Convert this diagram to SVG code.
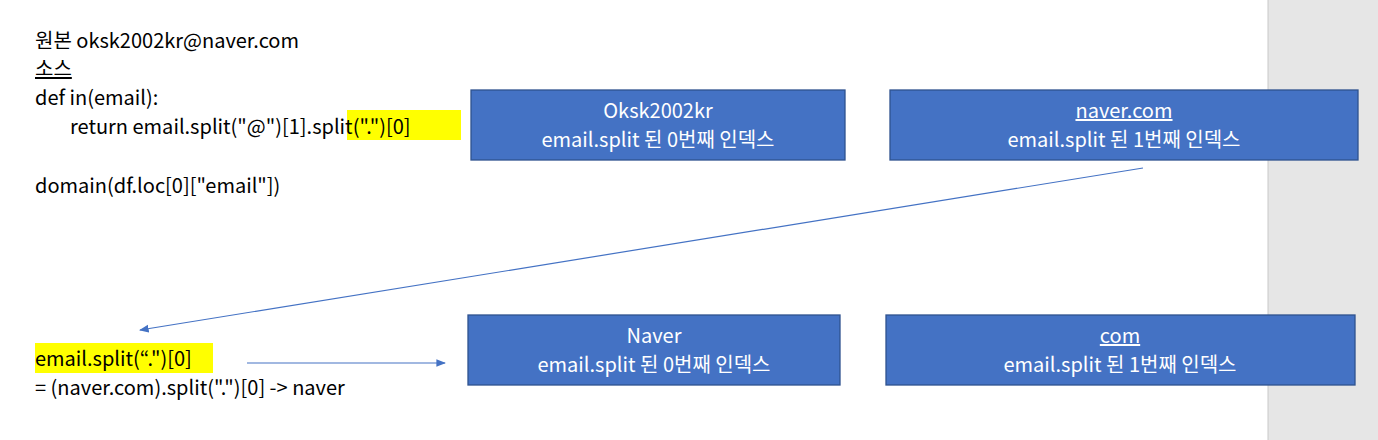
<svg xmlns="http://www.w3.org/2000/svg" width="1378" height="440" viewBox="0 0 1378 440">
<defs>
<style>
text{font-family:"Noto Sans CJK KR","Noto Sans",sans-serif;font-size:20px;fill:#000}
.box rect{fill:#4472c4;stroke:#2f528f;stroke-width:1.3}
.box text{fill:#fff;text-anchor:middle}
.hl{fill:#ffff00}
</style>
<marker id="ah" viewBox="0 0 10 10" refX="9" refY="5" markerWidth="8" markerHeight="8" orient="auto"><path d="M0,1L10,5L0,9z" fill="#4472c4"/></marker>
</defs>
<rect width="1378" height="440" fill="#fff"/>
<rect x="1268" y="0" width="110" height="440" fill="#e6e6e6"/>
<line x1="1268" y1="0" x2="1268" y2="440" stroke="#c8c8c8"/>
<g id="code">
<rect class="hl" x="347" y="110" width="114" height="30"/>
<text x="35" y="48">원본 oksk2002kr@naver.com</text>
<text x="35" y="76" text-decoration="underline">소스</text>
<text x="35" y="105">def in(email):</text>
<text x="70" y="134">return email.split("@")[1].split(".")[0]</text>
<text x="35" y="193">domain(df.loc[0]["email"])</text>
<rect class="hl" x="35" y="343" width="178" height="30"/>
<text x="35" y="366">email.split(“.")[0]</text>
<text x="35" y="395">=  (naver.com).split(".")[0]   ->  naver</text>
</g>
<g id="box1" class="box"><rect x="471" y="90" width="374" height="70"/><text x="658" y="118">Oksk2002kr</text><text x="658" y="147">email.split 된 0번째 인덱스</text></g>
<g id="box2" class="box"><rect x="890" y="90" width="468" height="70"/><text x="1124" y="118" text-decoration="underline">naver.com</text><text x="1124" y="147">email.split 된 1번째 인덱스</text></g>
<g id="box3" class="box"><rect x="468" y="315" width="372" height="70"/><text x="654" y="343">Naver</text><text x="654" y="372">email.split 된 0번째 인덱스</text></g>
<g id="box4" class="box"><rect x="886" y="315" width="469" height="70"/><text x="1120" y="343" text-decoration="underline">com</text><text x="1120" y="372">email.split 된 1번째 인덱스</text></g>
<g id="connectors" stroke="#4472c4" stroke-width="1.2" fill="none">
<line x1="1143" y1="168" x2="140" y2="330" marker-end="url(#ah)"/>
<line x1="247" y1="363" x2="445" y2="363" marker-end="url(#ah)"/>
</g>
</svg>
